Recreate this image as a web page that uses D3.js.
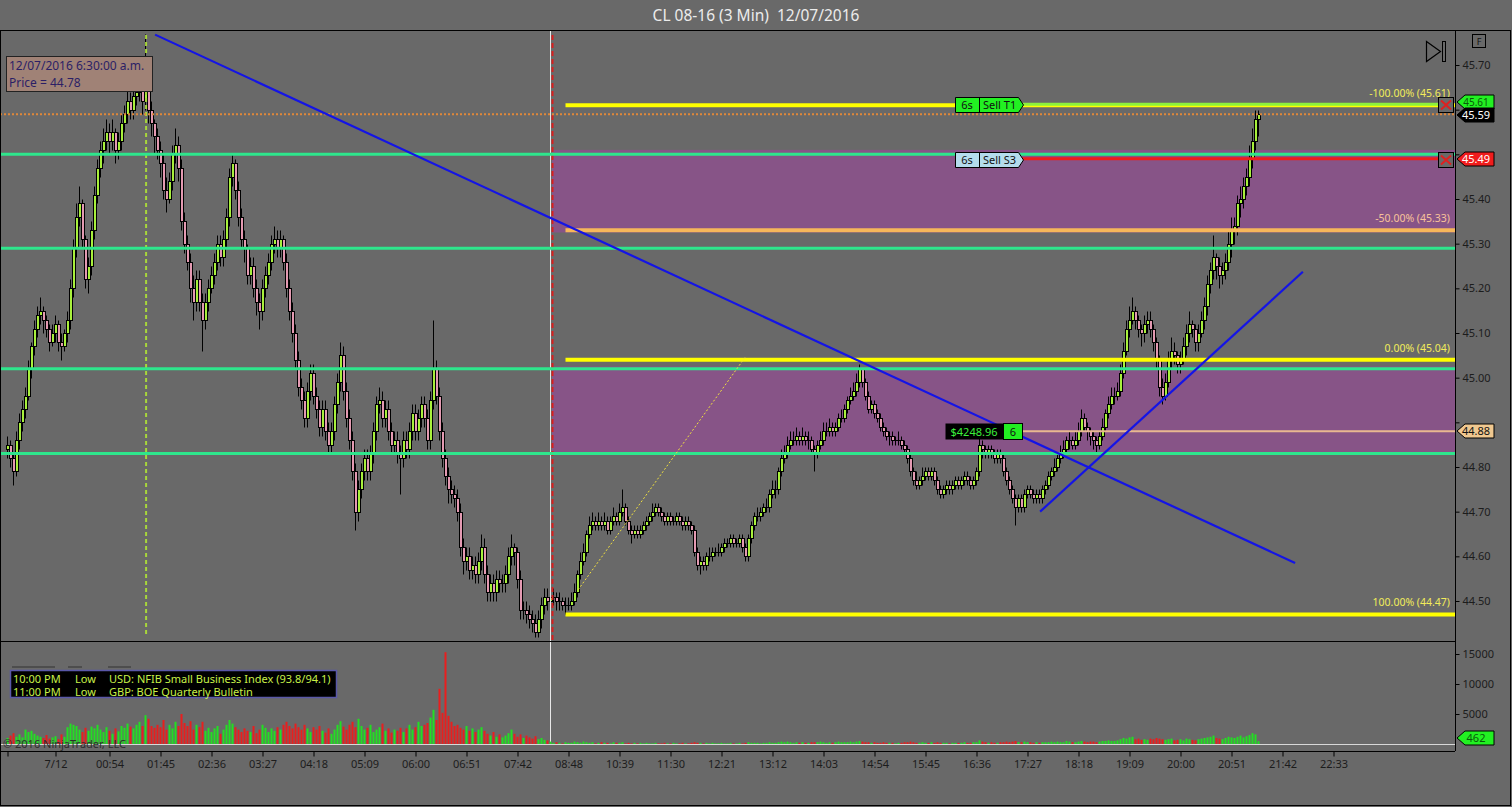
<!DOCTYPE html>
<html><head><meta charset="utf-8">
<script src="https://cdn.jsdelivr.net/npm/d3@7"></script>
<style>
html,body{margin:0;padding:0;background:#696969;overflow:hidden}
svg{display:block;font-family:"Noto Sans","DejaVu Sans",sans-serif}
</style></head><body>
<svg id="c" width="1512" height="807"></svg>
<script>
// ---------- DATA (prices in cents above 44.00) ----------
const openC = [
84,85,82,79,86,90,93,96,102,107, 111,114,115,113,111,108,110,112,108,107,
110,113,120,129,136,139,131,122,125,133, 141,147,151,153,155,153,155,151,153,157,
159,162,160,163,164,166,162,167,160,157, 154,151,148,142,140,144,150,152,147,135,
130,126,120,117,122,117,113,117,120,123, 126,130,127,131,136,145,148,142,136,131,
129,123,125,120,117,115,120,123,126,130, 131,129,131,126,120,115,110,104,98,95,
91,97,101,96,93,89,93,88,85,88, 94,99,105,97,91,86,79,70,75,79,
82,79,83,88,94,95,91,93,88,85, 86,83,82,86,84,88,92,88,91,94,
91,86,95,102,96,88,82,78,75,74, 73,70,62,59,60,57,58,56,59,62,
56,52,54,52,55,54,54,56,60,62, 61,55,48,48,47,46,45,43,46,49,
51,50, 51,51,50,50,49,49,49,50,
52,56,59,61,65,67,68,67,68,67, 68,66,68,69,68,70,71,68,66,65,
66,65,66,67,68,69,70,71,70,69, 68,69,68,68,69,68,67,68,67,66,
61,58,59,58,60,60,61,61,61,62, 63,63,64,63,63,64,62,60,64,67,
69,69,70,71,71,74,75,75,79,82, 83,85,86,86,87,86,87,86,86,84,
83,85,86,88,88,89,88,89,91,91, 93,95,96,97,99,102,99,96,93,94,
92,91,89,88,87,87,86,86,86,85, 84,82,79,77,76,77,78,79,78,79,
77,75,74,75,76,75,76,77,76,77, 78,77,76,77,79,85,84,83,84,83,
82,83,82,79,77,75,73,71,73,71, 74,75,74,73,74,73,75,76,78,79,
80,82,83,84,86,86,85,86,88,91, 89,88,87,86,85,87,89,92,94,96,
96,97,101,106,111,113,115,113,111,110, 112,113,111,108,104,98,96,99,104,106,
105,103,104,107,110,112,111,108,110,113, 116,121,124,127,125,123,124,126,130,133,
134,139,140,143,145,149,153,158];
const highC = [
87,86,83,88,92,95,98,104,108,113, 116,118,116,114,112,112,114,113,110,111,
115,122,131,139,143,140,132,127,135,143, 149,153,156,158,157,158,156,155,159,161,
165,164,165,167,172,168,177,170,162,158, 156,153,150,145,146,152,156,154,149,137,
132,128,123,124,124,119,119,122,125,128, 132,132,133,138,147,150,149,144,138,133,
130,127,127,122,119,122,125,128,132,134, 133,133,132,128,122,117,112,106,100,97,
99,103,103,98,95,95,95,90,90,96, 101,108,107,99,93,88,81,77,81,84,
84,85,90,96,98,97,95,95,90,88, 88,85,88,88,90,94,94,93,96,96,
93,97,113,104,98,90,84,80,77,76, 75,72,64,62,62,60,60,61,65,64,
58,56,56,57,57,56,58,62,65,63, 62,57,50,50,49,48,47,48,51,53,
53,53, 53,52,52,51,51,51,52,54,
57,61,63,66,69,70,69,70,69,70, 69,69,71,70,72,75,72,69,67,67,
67,67,68,69,70,72,72,72,71,70, 70,70,69,70,70,69,69,69,68,67,
62,60,60,61,62,62,62,63,63,64, 64,65,65,64,65,65,63,65,68,70,
71,71,72,73,75,77,77,80,84,85, 87,88,88,89,88,89,88,88,87,85,
86,88,90,90,91,90,90,92,93,94, 96,98,99,101,103,102,100,97,95,95,
93,92,90,89,88,88,87,88,87,86, 85,83,80,79,78,80,80,80,80,80,
78,76,76,77,77,77,78,78,78,79, 79,78,78,80,87,86,85,85,85,84,
84,84,83,80,78,76,74,74,74,75, 76,76,75,75,75,76,77,79,80,82,
83,85,86,87,88,87,88,90,93,92, 90,89,88,87,88,91,93,96,98,98,
99,103,108,113,116,118,116,114,112,114, 115,115,112,109,105,100,101,106,109,108,
106,106,109,112,115,113,112,112,115,118, 123,126,132,128,127,126,128,133,136,136,
141,143,145,147,152,156,160,160];
const lowC = [
82,80,76,78,84,88,91,95,100,105, 109,112,110,109,106,107,108,106,104,106,
108,111,118,127,134,129,120,119,123,131, 139,145,148,151,150,151,148,149,151,155,
157,158,158,161,162,159,160,157,154,150, 149,145,140,137,139,142,148,144,133,128,
124,117,113,115,115,106,111,115,119,121, 124,125,125,129,134,143,140,134,129,126,
121,121,118,114,111,113,118,121,124,128, 127,127,124,118,113,108,102,96,93,89,
89,95,94,91,87,87,86,83,83,86, 92,97,95,89,84,77,66,68,73,77,
77,77,81,86,92,89,89,86,83,83, 81,74,80,82,82,86,86,86,89,89,
84,84,93,94,86,80,76,72,72,71, 68,60,56,57,55,55,54,54,57,54,
50,50,50,50,52,52,52,54,58,58, 53,46,46,45,44,43,42,42,44,47,
48,49, 49,48,48,48,47,48,48,49,
51,55,58,60,64,66,66,66,66,66, 65,65,67,67,67,69,67,65,63,64,
64,64,65,66,67,68,69,69,68,67, 67,67,67,67,67,66,66,66,65,60,
57,56,57,57,59,59,60,60,60,61, 62,62,62,62,62,61,59,59,63,66,
68,68,69,70,70,73,73,74,78,81, 82,84,85,85,85,85,85,84,83,79,
82,84,85,87,87,87,87,88,90,90, 92,94,95,96,98,98,95,92,92,91,
90,88,87,86,85,85,85,85,84,83, 81,78,76,75,75,76,77,77,77,76,
74,73,73,74,74,74,75,75,75,76, 76,75,75,76,78,82,82,82,82,81,
81,81,78,76,74,72,67,70,70,70, 73,73,72,72,72,72,74,75,77,78,
79,81,82,83,84,84,84,85,87,88, 86,85,84,83,84,86,88,91,93,94,
95,96,100,105,109,112,111,109,107,108, 110,109,106,102,96,94,95,98,102,103,
101,101,103,105,108,109,106,106,109,111, 114,119,122,122,120,121,122,124,127,130,
132,136,138,141,143,147,151,154];
const closeC = [
85,82,79,86,90,93,96,102,107,111, 114,115,113,111,108,110,112,108,107,110,
113,120,129,136,139,131,122,125,133,141, 147,151,153,155,153,155,151,153,157,159,
162,160,163,164,166,162,167,160,157,154, 151,148,142,140,144,150,152,147,135,130,
126,120,117,122,117,113,117,120,123,126, 130,127,131,136,145,148,142,136,131,129,
123,125,120,117,115,120,123,126,130,131, 129,131,126,120,115,110,104,98,95,91,
97,101,96,93,89,93,88,85,88,94, 99,105,97,91,86,79,70,75,79,82,
79,83,88,94,95,91,93,88,85,86, 83,82,86,84,88,92,88,91,94,91,
86,95,102,96,88,82,78,75,74,73, 70,62,59,60,57,58,56,59,62,56,
52,54,52,55,54,54,56,60,62,61, 55,48,48,47,46,45,43,46,49,51,
50,51, 51,50,50,49,49,49,50,52,
56,59,61,65,67,68,67,68,67,68, 66,68,69,68,70,71,68,66,65,66,
65,66,67,68,69,70,71,70,69,68, 69,68,68,69,68,67,68,67,66,61,
58,59,58,60,60,61,61,61,62,63, 63,64,63,63,64,62,60,64,67,69,
69,70,71,71,74,75,75,79,82,83, 85,86,86,87,86,87,86,86,84,83,
85,86,88,88,89,88,89,91,91,93, 95,96,97,99,102,99,96,93,94,92,
91,89,88,87,87,86,86,86,85,84, 82,79,77,76,77,78,79,78,79,77,
75,74,75,76,75,76,77,76,77,78, 77,76,77,79,85,84,83,84,83,82,
83,82,79,77,75,73,71,73,71,74, 75,74,73,74,73,75,76,78,79,80,
82,83,84,86,86,85,86,88,91,89, 88,87,86,85,87,89,92,94,96,96,
97,101,106,111,113,115,113,111,110,112, 113,111,108,104,98,96,99,104,106,105,
103,104,107,110,112,111,108,110,113,116, 121,124,127,125,123,124,126,130,133,134,
139,140,143,145,149,153,158,159];
// volume in hundreds of contracts
const volH = [
10,14,18,12,16,11,24,20,22,17, 14,12,10,15,9,11,13,8,16,12,
28,34,32,30,24,20,27,22,29,26, 32,24,20,28,22,17,26,21,30,27,
34,29,26,32,37,30,48,42,30,27, 32,28,40,24,32,26,37,30,50,35,
30,38,24,32,28,37,22,27,20,26, 30,17,24,32,40,34,28,24,20,26,
22,20,30,18,24,32,27,20,26,22, 28,24,32,37,30,26,34,28,24,32,
26,20,28,24,30,22,19,26,17,24, 32,38,29,24,32,37,28,42,30,24,
27,32,20,24,28,34,22,26,19,24, 22,27,20,26,32,24,28,37,30,32,
35,44,57,40,92,52,153,47,37,30, 32,27,24,30,22,26,20,24,28,22,
17,14,20,12,16,11,14,18,24,17, 12,16,10,14,11,9,13,8,10,7,
6,4, 2,3,2,1,3,2,2,4,
3,2,4,3,2,3,1,2,3,2, 2,1,3,2,2,3,1,2,1,2,
1,2,1,2,1,1,2,1,1,2, 1,1,2,1,1,2,1,1,2,3,
2,2,1,2,1,2,1,1,2,1, 1,2,1,1,2,1,2,3,2,2,
2,1,2,2,3,2,2,3,4,3, 4,3,2,3,2,3,2,2,3,3,
3,4,3,2,3,2,3,4,3,3, 3,4,3,4,5,4,3,3,2,3,
2,2,3,2,2,2,1,2,2,3, 3,4,3,2,2,3,2,2,3,2,
3,2,2,2,1,2,2,2,2,3, 2,2,3,3,6,4,3,2,3,2,
2,3,3,4,3,4,5,3,3,4, 3,3,2,3,2,3,3,3,4,3,
4,3,3,5,4,3,3,4,5,4, 3,4,4,3,4,5,5,6,5,5,
6,8,10,9,11,12,8,9,7,8, 7,9,8,10,9,8,7,8,9,6,
7,8,6,9,8,7,6,8,9,10, 11,12,14,10,9,8,10,12,11,10,
12,14,11,13,15,18,16,4.62];

const priceTicks = [44.5,44.6,44.7,44.8,44.9,45.0,45.1,45.2,45.3,45.4,45.5,45.6,45.7];
const hiddenPriceLabels = [44.9,45.5,45.6]; // covered by order flags in the reference
const volTicks = [5000,10000,15000];
const timeTickBars = [0,16,34,51,68,85,102,119,136,153,170,187,204,221,238,255,272,289,306,323,340,357,374,391,408,425,442];
const timeTickLabels = ["","7/12","00:54","01:45","02:36","03:27","04:18","05:09","06:00","06:51","07:42","08:48","10:39","11:30","12:21","13:12","14:03","14:54","15:45","16:36","17:27","18:18","19:09","20:00","20:51","21:42","22:33"];
const supportLevels = [45.50,45.29,45.02,44.83];
const zoneTops = [45.51,45.025];
const zoneBottoms = [45.325,44.83];
const fibLevels = [45.61,45.33,45.04,44.47];
const fibLabels = ["-100.00% (45.61)","-50.00% (45.33)","0.00% (45.04)","100.00% (44.47)"];
const trend1 = [[49.2,45.768],[429.2,44.585]];
const trend2 = [[344.2,44.70],[431.8,45.237]];
const fibGuide = [[190.2,44.525],[245.8,45.045]];
const lastPrice = 45.59, targetPrice = 45.61, stopPrice = 45.49, entryPrice = 44.88;
const lastVolume = 462;
const events = [["10:00 PM","Low","USD: NFIB Small Business Index (93.8/94.1)"],["11:00 PM","Low","GBP: BOE Quarterly Bulletin"]];

// ---------- SCALES ----------
const svg = d3.select("#c");
const R = 1455; // right edge of plot
const x = d3.scaleLinear().domain([0,417]).range([7.5,1258.5]);
const y = d3.scaleLinear().domain([44.5,45.7]).range([601,65]);
const vy = d3.scaleLinear().domain([0,15000]).range([744,654]);
const P = c => 44 + c/100;
const ry = v => Math.round(v)+0.5;

svg.append("rect").attr("width",1512).attr("height",807).attr("fill","#696969");

// title
svg.append("text").attr("x",756).attr("y",21).attr("text-anchor","middle").attr("xml:space","preserve")
  .attr("fill","#ececec").attr("font-size",15.5).text("CL 08-16 (3 Min)\u00a0\u00a012/07/2016");

// zones
const zg = svg.append("g");
zoneTops.forEach((t,i)=>{
  zg.append("rect").attr("x",552).attr("width",R-552)
    .attr("y",y(t)).attr("height",y(zoneBottoms[i])-y(t)).attr("fill","#875487");
});

// candles
const cg = svg.append("g");
closeC.forEach((c,i)=>{
  const o=openC[i], h=Math.max(highC[i],o,c), l=Math.min(lowC[i],o,c);
  const cx=x(i);
  cg.append("line").attr("x1",cx).attr("x2",cx).attr("y1",ry(y(P(h)))).attr("y2",ry(y(P(l))))
    .attr("stroke","#000").attr("stroke-width",1);
  const yt=ry(y(P(Math.max(o,c)))), yb=ry(y(P(Math.min(o,c))));
  if(o===c){
    cg.append("line").attr("x1",cx-1.5).attr("x2",cx+2.5).attr("y1",yt).attr("y2",yt).attr("stroke","#000");
  } else {
    cg.append("rect").attr("x",cx-1).attr("width",3).attr("y",yt).attr("height",yb-yt)
      .attr("fill",c>o?"#a8f03c":"#e49ab2").attr("stroke","#000").attr("stroke-width",1);
  }
});

// vertical session lines
svg.append("line").attr("x1",x(181)).attr("x2",x(181)).attr("y1",31).attr("y2",744).attr("stroke","#e8e8e8").attr("stroke-width",1);
svg.append("line").attr("x1",x(181.67)).attr("x2",x(181.67)).attr("y1",35).attr("y2",641).attr("stroke","#d82020").attr("stroke-width",2).attr("stroke-dasharray","5,3");
svg.append("line").attr("x1",x(46.2)).attr("x2",x(46.2)).attr("y1",35).attr("y2",637).attr("stroke","#a8d83a").attr("stroke-width",2).attr("stroke-dasharray","4,3");

// support lines
supportLevels.forEach(p=>{
  svg.append("line").attr("x1",0).attr("x2",R).attr("y1",y(p)).attr("y2",y(p)).attr("stroke","#2ee68c").attr("stroke-width",3);
});

// fib lines
const fibColors = ["#ffff00","#f7b75a","#ffff00","#ffff00"];
const fibText = ["#f2ec5a","#f8c39a","#f2ec5a","#f2ec5a"];
fibLevels.forEach((p,i)=>{
  svg.append("line").attr("x1",x(186)).attr("x2",R).attr("y1",y(p)).attr("y2",y(p)).attr("stroke",fibColors[i]).attr("stroke-width",4);
  svg.append("text").attr("x",1450).attr("y",y(p)-8).attr("text-anchor","end").attr("font-size",10.5)
    .attr("fill",fibText[i]).text(fibLabels[i]);
});
// fib guide
svg.append("line").attr("x1",x(fibGuide[0][0])).attr("y1",y(fibGuide[0][1])).attr("x2",x(fibGuide[1][0])).attr("y2",y(fibGuide[1][1]))
  .attr("stroke","#f0e040").attr("stroke-width",1).attr("stroke-dasharray","2,2");

// last price dotted line
svg.append("line").attr("x1",0).attr("x2",R).attr("y1",y(lastPrice)).attr("y2",y(lastPrice)).attr("stroke","#e0883a").attr("stroke-width",2).attr("stroke-dasharray","2,2");

// order lines
svg.append("line").attr("x1",1022).attr("x2",1440).attr("y1",y(targetPrice)-1).attr("y2",y(targetPrice)-1).attr("stroke","#8cf03c").attr("stroke-width",3);
svg.append("line").attr("x1",1022).attr("x2",1440).attr("y1",y(stopPrice)).attr("y2",y(stopPrice)).attr("stroke","#ee1c1c").attr("stroke-width",3);
svg.append("line").attr("x1",1022).attr("x2",R).attr("y1",y(entryPrice)).attr("y2",y(entryPrice)).attr("stroke","#e8b890").attr("stroke-width",2);

// trend lines
[trend1,trend2].forEach(t=>{
  svg.append("line").attr("x1",x(t[0][0])).attr("y1",y(t[0][1])).attr("x2",x(t[1][0])).attr("y2",y(t[1][1]))
    .attr("stroke","#1414e6").attr("stroke-width",2.2);
});

// order labels
function orderTag(yc, fill, txt){
  const g=svg.append("g");
  const t=Math.round(yc)-7.5, b=t+15;
  g.append("path").attr("d",`M955.5,${t}H1018.5L1023.5,${(t+b)/2}L1018.5,${b}H955.5Z`).attr("fill",fill).attr("stroke","#000");
  g.append("line").attr("x1",979.5).attr("x2",979.5).attr("y1",t).attr("y2",b).attr("stroke","#000");
  g.append("text").attr("x",967).attr("y",b-3.5).attr("text-anchor","middle").attr("font-size",11).attr("fill","#111").text("6s");
  g.append("text").attr("x",983).attr("y",b-3.5).attr("font-size",11).attr("fill","#111").text(txt);
}
orderTag(y(targetPrice), "#22f022", "Sell T1");
orderTag(y(stopPrice)+1, "#b4dcec", "Sell S3");

// close X boxes
[y(targetPrice), y(stopPrice)+1].forEach(yc=>{
  const t=Math.round(yc)-7.5;
  svg.append("rect").attr("x",1438.5).attr("y",t).attr("width",15).attr("height",15).attr("fill","#696969").attr("stroke","#000");
  svg.append("path").attr("d",`M1441,${t+3}L1451,${t+12}M1451,${t+3}L1441,${t+12}`).attr("stroke","#e02020").attr("stroke-width",2);
});

// PnL tag
{
  const t=Math.round(y(entryPrice))-7.5;
  svg.append("rect").attr("x",945.5).attr("y",t).attr("width",58).attr("height",16).attr("fill","#000");
  svg.append("text").attr("x",974).attr("y",t+12).attr("text-anchor","middle").attr("font-size",11).attr("fill","#3cf03c").text("$4248.96");
  svg.append("rect").attr("x",1003.5).attr("y",t).attr("width",19).attr("height",16).attr("fill","#22ee22").attr("stroke","#000");
  svg.append("text").attr("x",1013).attr("y",t+12).attr("text-anchor","middle").attr("font-size",11).attr("fill","#111").text("6");
}

// tooltip
svg.append("rect").attr("x",6.5).attr("y",56.5).attr("width",146).attr("height",35).attr("fill","#a08276").attr("stroke","#222");
svg.append("text").attr("x",9).attr("y",70).attr("font-size",12).attr("fill","#2c1f66").text("12/07/2016 6:30:00 a.m.");
svg.append("text").attr("x",9).attr("y",87).attr("font-size",12).attr("fill","#2c1f66").text("Price = 44.78");

// volume bars
const vg = svg.append("g");
volH.forEach((v,i)=>{
  const vol=v*100, up=closeC[i]>=openC[i];
  vg.append("rect").attr("x",x(i)-1).attr("width",2).attr("y",vy(vol)).attr("height",744-vy(vol)).attr("fill",up?"#22e022":"#ea1e1e");
});
svg.append("line").attr("x1",0).attr("x2",R).attr("y1",744.5).attr("y2",744.5).attr("stroke","#d8d8d8");

// events box
svg.append("rect").attr("x",10.5).attr("y",670.5).attr("width",326).attr("height",27).attr("fill","#000").attr("stroke","#5a58a8").attr("stroke-width",1.5);
events.forEach((e,i)=>{
  const yy=682+i*12.5;
  svg.append("text").attr("x",13).attr("y",yy+1).attr("font-size",11).attr("fill","#c8f048").text(e[0]);
  svg.append("text").attr("x",75).attr("y",yy+1).attr("font-size",11).attr("fill","#c8f048").text(e[1]);
  svg.append("text").attr("x",109).attr("y",yy+1).attr("font-size",11).attr("fill","#c8f048").text(e[2]);
});
svg.append("path").attr("d","M12,667H55M68,667H82M108,667H131").attr("stroke","#333").attr("stroke-width",1);
svg.append("text").attr("x",3).attr("y",748).attr("font-size",11).attr("fill","#2e2e2e").text("© 2016 NinjaTrader, LLC");

// frames
const fr = svg.append("g").attr("fill","none").attr("stroke","#000");
fr.append("rect").attr("x",0.5).attr("y",30.5).attr("width",1510).attr("height",775);
fr.append("line").attr("x1",R+0.5).attr("x2",R+0.5).attr("y1",30).attr("y2",751);
fr.append("line").attr("x1",0).attr("x2",R).attr("y1",641.5).attr("y2",641.5);
fr.append("line").attr("x1",0).attr("x2",R).attr("y1",751.5).attr("y2",751.5);

// axes
const pa = svg.append("g").attr("transform",`translate(${R+0.5},0)`)
  .call(d3.axisRight(y).tickValues(priceTicks)
    .tickFormat(d=>hiddenPriceLabels.some(h=>Math.abs(h-d)<1e-6)?"":d3.format(".2f")(d)).tickSize(4));
const va = svg.append("g").attr("transform",`translate(${R+0.5},0)`)
  .call(d3.axisRight(vy).tickValues(volTicks).tickFormat(d3.format("d")).tickSize(4));
const xa = svg.append("g").attr("transform",`translate(0,751.5)`)
  .call(d3.axisBottom(x).tickValues(timeTickBars).tickFormat((d,i)=>timeTickLabels[i]).tickSize(5));
[pa,va,xa].forEach(a=>{
  a.select(".domain").remove();
  a.selectAll("line").attr("stroke","#000");
  a.selectAll("text").attr("fill","#1c1c1c").attr("font-size",11).attr("font-family","Noto Sans, DejaVu Sans, sans-serif");
});
pa.selectAll("text").attr("x",7);
va.selectAll("text").attr("x",7);
xa.selectAll("text").attr("y",9);

// axis flags
function flag(yc, fill, tcol, txt, fs){
  const t=Math.round(yc)-7, b=t+14, m=(t+b)/2;
  svg.append("path").attr("d",`M${R+2},${m}L${R+10},${t}H1494V${b}H${R+10}Z`).attr("fill",fill).attr("stroke","#000");
  svg.append("text").attr("x",1476).attr("y",b-3).attr("text-anchor","middle").attr("font-size",fs||11).attr("fill",tcol).text(txt);
}
flag(y(targetPrice)-3, "#22f022", "#0a5a0a", targetPrice.toFixed(2), 10);
flag(y(lastPrice)+1, "#000", "#fff", lastPrice.toFixed(2));
flag(y(stopPrice), "#f01c1c", "#fff", stopPrice.toFixed(2));
flag(y(entryPrice), "#f0c890", "#111", entryPrice.toFixed(2));
flag(vy(lastVolume)-3, "#22f022", "#0a5a0a", String(lastVolume));

// top-right controls
svg.append("path").attr("d","M1426.5,41.5L1440.5,51.5L1426.5,61.5Z").attr("fill","none").attr("stroke","#000").attr("stroke-width",1.2);
svg.append("rect").attr("x",1442.5).attr("y",41.5).attr("width",3).attr("height",20).attr("fill","none").attr("stroke","#000");
svg.append("rect").attr("x",1472.5).attr("y",34.5).attr("width",13).attr("height",13).attr("fill","none").attr("stroke","#000");
svg.append("text").attr("x",1479).attr("y",45).attr("text-anchor","middle").attr("font-size",9).attr("fill","#111").text("F");
</script>
</body></html>
